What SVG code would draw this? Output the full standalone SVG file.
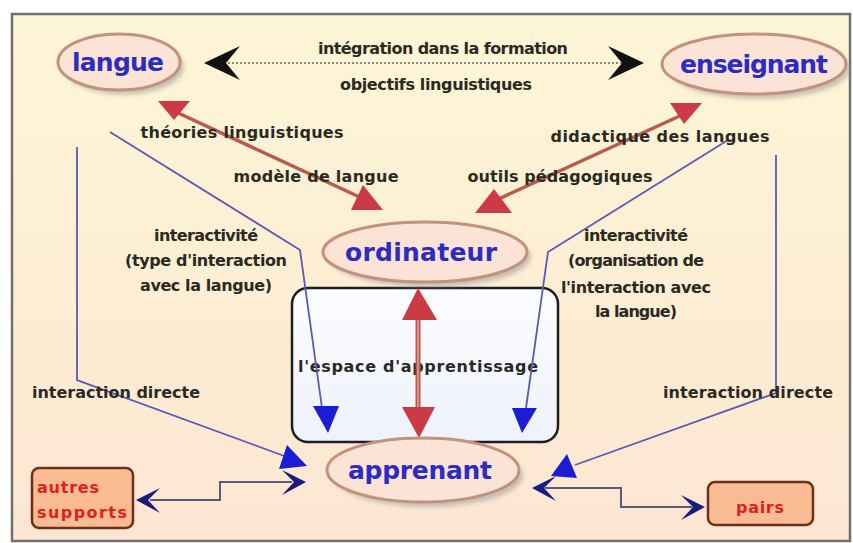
<svg xmlns="http://www.w3.org/2000/svg" width="853" height="543" viewBox="0 0 853 543">
<defs>
<linearGradient id="bg" x1="0" y1="0" x2="0" y2="1">
<stop offset="0" stop-color="#fdf6d6"/>
<stop offset="1" stop-color="#fde6d2"/>
</linearGradient>
<linearGradient id="boxg" x1="0" y1="0" x2="0" y2="1">
<stop offset="0" stop-color="#fbfcff"/>
<stop offset="1" stop-color="#eef2fb"/>
</linearGradient>
<filter id="blur" x="-20%" y="-20%" width="140%" height="140%"><feGaussianBlur stdDeviation="2"/></filter>
</defs>
<style>
.lbl{font-family:"DejaVu Sans",sans-serif;font-size:16px;font-weight:bold;fill:#2a2a22}
.node-e{fill:#fbe4d6;stroke:#c4927c;stroke-width:3}
.shadow{fill:#9a9a9a;opacity:0.55;filter:url(#blur)}
.ntxt{font-family:"DejaVu Sans",sans-serif;font-size:25px;font-weight:bold;fill:#2c2cc4;text-anchor:middle}
.red{stroke:#b85a4e;stroke-width:3.5;fill:none}
.redh{fill:#cc3a46}
.blue{stroke:#5a5ab4;stroke-width:1.8;fill:none}
.blueh{fill:#1c1cd4}
.navy{stroke:#5a5a7a;stroke-width:2;fill:none}
.navyh{fill:#1a1a80}
.box{fill:#f9bb92;stroke:#6e2e1e;stroke-width:2.5}
.btxt{font-family:"DejaVu Sans",sans-serif;font-size:16px;font-weight:bold;fill:#e02020}
</style>
<rect x="0" y="0" width="853" height="543" fill="#ffffff"/>
<rect x="12" y="14" width="838" height="527" fill="url(#bg)" stroke="#707070" stroke-width="2.5"/>

<g id="espace">
<rect x="292" y="288" width="266" height="154" rx="16" fill="url(#boxg)" stroke="#1e1e1e" stroke-width="2.5"/>
<text class="lbl" x="418" y="372" text-anchor="middle" textLength="240">l'espace d'apprentissage</text>
</g>

<g id="connectors">
<line x1="228" y1="63" x2="622" y2="63" stroke="#8a8a8a" stroke-width="2" stroke-dasharray="2,2"/>
<polygon points="204,63 240,46 226,63 240,80" fill="#111"/>
<polygon points="644,63 608,46 622,63 608,80" fill="#111"/>
<line class="red" x1="176" y1="112" x2="366" y2="200"/>
<polygon class="redh" points="158,101 190,101 174,120"/>
<polygon class="redh" points="363,185 351,210 383,210"/>
<line class="red" x1="684" y1="114" x2="492" y2="202"/>
<polygon class="redh" points="670,103 702,103 684,124"/>
<polygon class="redh" points="494,189 475,213 512,213"/>
<line x1="418" y1="318" x2="418" y2="410" stroke="#b85a4e" stroke-width="5"/>
<line x1="418" y1="318" x2="418" y2="410" stroke="#e6a2a0" stroke-width="1.5"/>
<polygon class="redh" points="418,288 402,320 437,320"/>
<polygon class="redh" points="402,407 435,407 419,438"/>
<polyline class="blue" points="110,132 300,250 322,408"/>
<polygon class="blueh" points="313,406 339,406 328,433"/>
<polyline class="blue" points="728,140 548,252 526,408"/>
<polygon class="blueh" points="512,408 537,408 522,433"/>
<polyline class="blue" points="77,147 77,380 287,457"/>
<polygon class="blueh" points="287,445 279,469 307,466"/>
<polyline class="blue" points="776,155 776,393 575,465"/>
<polygon class="blueh" points="567,454 577,478 551,476"/>
<polyline class="navy" points="150,500 220,500 220,482 292,482"/>
<polygon class="navyh" points="136,500 160,488 148,500 160,513"/>
<polygon class="navyh" points="306,482 282,470 294,482 282,495"/>
<polyline class="navy" points="545,488 621,488 621,507 692,507"/>
<polygon class="navyh" points="532,488 556,476 544,488 556,501"/>
<polygon class="navyh" points="705,507 681,495 693,507 681,520"/>
</g>

<g id="langue">
<ellipse class="shadow" cx="124" cy="67" rx="60" ry="28"/>
<ellipse class="node-e" cx="119" cy="62" rx="61" ry="28"/>
<text class="ntxt" x="118" y="71" textLength="92">langue</text>
</g>
<g id="enseignant">
<ellipse class="shadow" cx="759" cy="69" rx="91" ry="30"/>
<ellipse class="node-e" cx="754" cy="64" rx="92" ry="30"/>
<text class="ntxt" x="754" y="73" textLength="148">enseignant</text>
</g>
<g id="ordinateur">
<ellipse class="shadow" cx="430" cy="257" rx="101" ry="30"/>
<ellipse class="node-e" cx="425" cy="252" rx="102" ry="30"/>
<text class="ntxt" x="421" y="261" textLength="152">ordinateur</text>
</g>
<g id="apprenant">
<ellipse class="shadow" cx="428" cy="475" rx="95" ry="32"/>
<ellipse class="node-e" cx="423" cy="470" rx="96" ry="32"/>
<text class="ntxt" x="420" y="479" textLength="144">apprenant</text>
</g>
<g id="autres">
<rect class="box" x="32" y="468" width="101" height="60" rx="7"/>
<text class="btxt" x="37" y="493" textLength="62">autres</text>
<text class="btxt" x="37" y="518" textLength="90">supports</text>
</g>
<g id="pairs">
<rect class="box" x="708" y="482" width="105" height="43" rx="7"/>
<text class="btxt" x="760" y="513" text-anchor="middle" textLength="48">pairs</text>
</g>

<g id="labels">
<text class="lbl" x="443" y="54" text-anchor="middle" textLength="250">intégration dans la formation</text>
<text class="lbl" x="436" y="90" text-anchor="middle" textLength="192">objectifs linguistiques</text>
<text class="lbl" x="242" y="138" text-anchor="middle" textLength="203">théories linguistiques</text>
<text class="lbl" x="316" y="182" text-anchor="middle" textLength="165">modèle de langue</text>
<text class="lbl" x="660" y="142" text-anchor="middle" textLength="219">didactique des langues</text>
<text class="lbl" x="560" y="182" text-anchor="middle" textLength="185">outils pédagogiques</text>
<text class="lbl" x="206" y="241" text-anchor="middle" font-size="14" textLength="104">interactivité</text>
<text class="lbl" x="206" y="266" text-anchor="middle" font-size="14" textLength="162">(type d'interaction</text>
<text class="lbl" x="206" y="291" text-anchor="middle" font-size="14" textLength="132">avec la langue)</text>
<text class="lbl" x="636" y="241" text-anchor="middle" font-size="14" textLength="104">interactivité</text>
<text class="lbl" x="636" y="266" text-anchor="middle" font-size="14" textLength="136">(organisation de</text>
<text class="lbl" x="636" y="293" text-anchor="middle" font-size="14" textLength="150">l'interaction avec</text>
<text class="lbl" x="636" y="317" text-anchor="middle" font-size="14" textLength="82">la langue)</text>
<text class="lbl" x="32" y="398" textLength="168">interaction directe</text>
<text class="lbl" x="663" y="398" textLength="170">interaction directe</text>
</g>
</svg>
